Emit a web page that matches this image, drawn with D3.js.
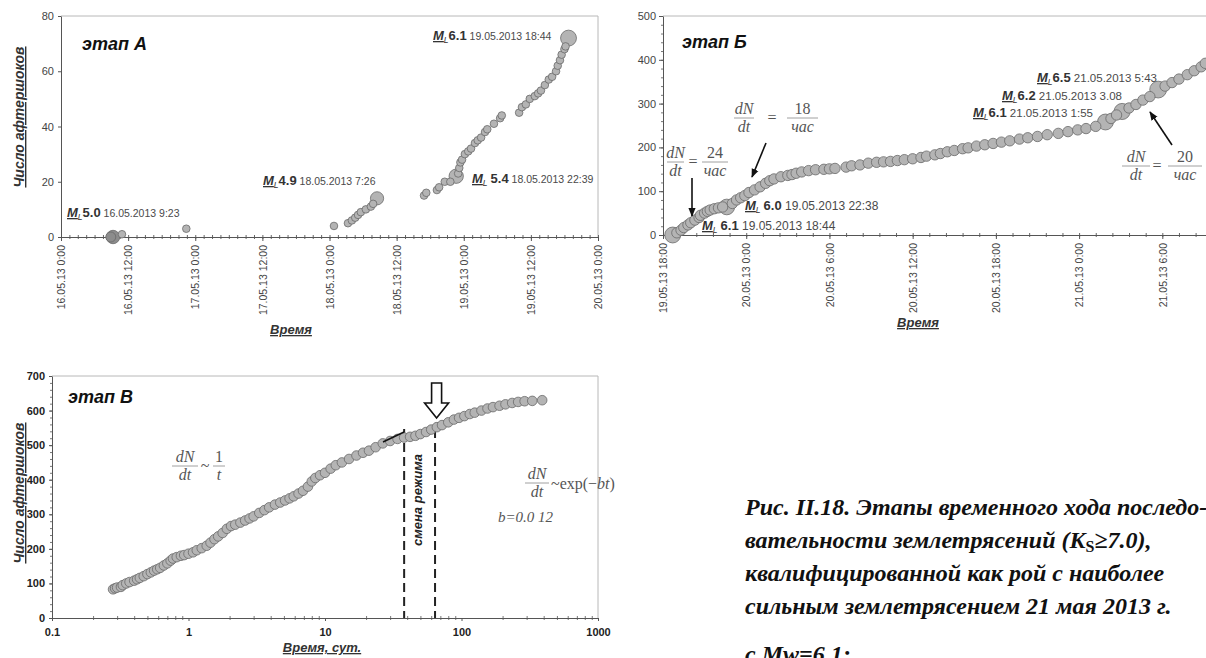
<!DOCTYPE html>
<html>
<head>
<meta charset="utf-8">
<script src="https://cdn.jsdelivr.net/npm/d3@7"></script>
<style>
  body { margin: 0; background: #fff; }
  svg { display: block; }
</style>
</head>
<body>
<svg id="fig" width="1206" height="658" font-family="Liberation Sans, Arial, sans-serif"></svg>
<script>
// ---- stage A: hours after 16.05.2013 0:00, cumulative count
const stageAHours = [10.9, 22.4, 48.8, 51.3, 52.0, 52.6, 53.1, 53.6, 54.5, 55.4, 55.8, 64.9, 65.3, 67.2, 67.6, 68.6, 69.6,
  71.0, 71.2, 71.4, 71.7, 72.2, 72.8, 73.3, 74.0, 74.5, 75.1, 75.8, 76.2, 77.4, 78.5, 78.8, 81.9, 82.4, 83.1, 83.8,
  84.7, 85.3, 85.8, 86.5, 87.2, 87.8, 88.5, 88.8, 89.2, 89.5, 90.0, 90.2];
const stageACount = [1, 3, 4, 5, 6, 7, 8, 9, 10, 11, 12, 15, 16, 17, 18, 20, 20,
  23, 25, 27, 28, 30, 31, 32, 34, 35, 36, 38, 39, 41, 43, 44, 45, 47, 48, 50,
  51, 52, 53, 55, 57, 58, 60, 62, 64, 66, 68, 69];
const mainAHours = [9.3, 56.5, 70.65, 90.73];
const mainACount = [0, 14, 22, 72];
const mainAMag = [5.0, 4.9, 5.4, 6.1];
const mainADate = ["16.05.2013 9:23", "18.05.2013 7:26", "18.05.2013 22:39", "19.05.2013 18:44"];

// ---- stage B: hours after 19.05.2013 18:00
const stageBHours = [1.0, 1.3, 1.5, 1.8, 2.0, 2.3, 2.6, 2.7, 3.0, 3.2, 3.4, 3.7, 4.0, 4.3, 5.0, 5.3, 5.6, 5.9, 6.2, 6.6,
  7.0, 7.4, 7.7, 8.0, 8.5, 9.0, 9.3, 9.6, 10.0, 10.5, 11.0, 11.6, 12.0, 12.4, 13.2, 13.6, 14.2, 14.8, 15.4, 15.9,
  16.4, 16.9, 17.4, 18.0, 18.6, 19.0, 19.6, 20.0, 20.5, 21.0, 21.6, 22.0, 22.6, 23.2, 23.8, 24.4, 25.0, 25.7,
  26.3, 27.0, 27.7, 28.5, 29.2, 29.9, 30.5, 31.2, 32.3, 32.7, 33.6, 34.1, 34.6, 35.1, 36.2, 36.7, 37.2, 37.8,
  38.3, 38.8, 39.1];
const stageBCount = [5, 11, 17, 23, 28, 34, 40, 45, 50, 54, 57, 60, 62, 64, 72, 80, 85, 90, 97, 103,
  110, 118, 124, 128, 133, 136, 138, 141, 144, 147, 149, 150, 151, 152, 155, 158, 160, 164, 166, 167,
  168, 170, 172, 174, 177, 180, 183, 186, 190, 193, 197, 199, 203, 206, 209, 212, 215, 219,
  222, 225, 229, 232, 236, 240, 243, 248, 266, 274, 290, 298, 308, 316, 340, 348, 356, 366,
  375, 384, 392];
const mainBHours = [0.7, 4.6, 31.9, 33.1, 35.7];
const mainBCount = [0, 64, 258, 282, 332];
const mainBMag = [6.1, 6.0, 6.1, 6.2, 6.5];

// ---- stage C: days, cumulative count
const stageCDays = [0.28, 0.29, 0.30, 0.32, 0.33, 0.35, 0.37, 0.40, 0.42, 0.44, 0.47, 0.50, 0.53, 0.56, 0.59, 0.62,
  0.66, 0.70, 0.74, 0.77, 0.82, 0.88, 0.93, 1.0, 1.08, 1.15, 1.25, 1.36, 1.45, 1.55, 1.65, 1.78, 1.91, 2.05, 2.2,
  2.4, 2.6, 2.8, 3.0, 3.3, 3.6, 3.9, 4.3, 4.7, 5.1, 5.5, 5.9, 6.4, 6.9, 7.5, 8.0, 8.5, 9.2, 10, 11, 12, 13.3, 15,
  17, 19, 21, 23.5, 26.5, 30, 34, 38, 42, 46, 50, 55, 60, 66, 72, 80, 88, 96, 105, 115, 125, 140, 155, 170, 190,
  210, 235, 260, 290, 330, 390];
const stageCCount = [83, 86, 88, 90, 95, 100, 104, 108, 112, 116, 121, 127, 132, 137, 141, 145,
  152, 158, 166, 172, 176, 180, 182, 186, 190, 196, 202, 209, 218, 228, 236, 246, 258, 266, 270,
  276, 282, 288, 294, 304, 312, 320, 328, 334, 340, 346, 352, 360, 368, 380, 395, 405, 413, 420, 432, 442, 450, 460,
  470, 478, 484, 494, 505, 512, 518, 522, 524, 527, 532, 538, 545, 552, 558, 566, 574, 579, 584, 590, 594, 600, 606, 610, 614,
  618, 622, 625, 627, 628, 630];
const regimeDays = [38, 64];

const ticksAHours = [0, 12, 24, 36, 48, 60, 72, 84, 96];
const ticksBHours = [0, 6, 12, 18, 24, 30, 36];
const ticksAY = [0, 20, 40, 60, 80];
const ticksBY = [0, 100, 200, 300, 400, 500];
const ticksCY = [0, 100, 200, 300, 400, 500, 600, 700];
const ticksCX = [0.1, 1, 10, 100, 1000];

const captionLines = [
  "Рис. II.18. Этапы временного хода последо-",
  "вательности землетрясений (K|S|≥7.0),",
  "квалифицированной как рой с наиболее",
  "сильным землетрясением 21 мая 2013 г.",
  "с Mw=6.1;"
];

const svg = d3.select("#fig");
const SERIF = "Liberation Serif, Times New Roman, serif";
const startA = new Date(2013, 4, 16, 0, 0);
const startB = new Date(2013, 4, 19, 18, 0);
const atHours = (s, h) => new Date(+s + h * 3600e3);
const fmt = d3.timeFormat("%d.%m.%y %-H:%M");
const rScale = d3.scaleLinear().domain([4.9, 6.5]).range([6.6, 8.4]);

const FILL = "#b4b4b4", STROKE = "#6a6a6a";

svg.append("defs").append("marker")
  .attr("id", "arr").attr("viewBox", "0 0 10 10").attr("refX", 9).attr("refY", 5)
  .attr("markerWidth", 9).attr("markerHeight", 9).attr("markerUnits", "userSpaceOnUse")
  .attr("orient", "auto")
  .append("path").attr("d", "M0,1 L10,5 L0,9 z").attr("fill", "#111");

function styleAxis(g, size) {
  g.attr("font-family", null);
  g.select(".domain").attr("stroke", "#555");
  g.selectAll(".tick line").attr("stroke", "#555");
  g.selectAll("text").attr("font-size", size).attr("fill", "#444");
}

function border(x, y) {
  const [x0, x1] = x.range(), [y0, y1] = y.range();
  svg.append("path").attr("d", `M${x0},${y1}H${x1}V${y0}`)
    .attr("fill", "none").attr("stroke", "#b8b8b8").attr("stroke-width", 1);
}

function axisTitle(x, y, txt, rot, size) {
  svg.append("text").attr("transform", `translate(${x},${y}) rotate(${rot})`)
    .attr("text-anchor", "middle").attr("font-size", size).attr("font-weight", "bold")
    .attr("font-style", "italic").attr("text-decoration", "underline").attr("fill", "#333").text(txt);
}

function stageTitle(x, y, txt) {
  svg.append("text").attr("x", x).attr("y", y).attr("font-size", 18).attr("font-weight", "bold")
    .attr("font-style", "italic").attr("fill", "#111").text(txt);
}

function mlLabel(x, y, mag, date, gap, dateSize) {
  const t = svg.append("text").attr("x", x).attr("y", y).attr("fill", "#333");
  t.append("tspan").text("M").attr("font-size", 13).attr("font-weight", "bold")
    .attr("font-style", "italic").attr("text-decoration", "underline");
  t.append("tspan").text("L").attr("font-size", 8.5).attr("font-style", "italic").attr("dy", 3);
  t.append("tspan").text(mag.toFixed(1)).attr("font-size", 13).attr("font-weight", "bold").attr("dy", -3).attr("dx", gap);
  t.append("tspan").text(" " + date).attr("font-size", dateSize || 10.5).attr("fill", "#4a4a4a");
}

function serif(x, y, txt, anchor, italic, size) {
  return svg.append("text").attr("x", x).attr("y", y).attr("text-anchor", anchor || "middle")
    .attr("font-family", SERIF).attr("font-size", size || 16)
    .attr("font-style", italic ? "italic" : "normal").attr("fill", "#555").text(txt);
}

function frac(x, barY, w, num, den, numItalic) {
  svg.append("line").attr("x1", x).attr("x2", x + w).attr("y1", barY).attr("y2", barY)
    .attr("stroke", "#888").attr("stroke-width", 0.8);
  serif(x + w / 2, barY - 4, num, "middle", numItalic);
  serif(x + w / 2, barY + 14, den, "middle", true);
}

function arrow(x1, y1, x2, y2) {
  svg.append("line").attr("x1", x1).attr("y1", y1).attr("x2", x2).attr("y2", y2)
    .attr("stroke", "#111").attr("stroke-width", 1.6).attr("marker-end", "url(#arr)");
}

function dots(data, x, y, r, fill) {
  svg.append("g").selectAll("circle").data(data).join("circle")
    .attr("cx", d => x(d[0])).attr("cy", d => y(d[1]))
    .attr("r", d => (d[2] ? rScale(d[2]) : r))
    .attr("fill", d => d[3] || fill).attr("stroke", STROKE).attr("stroke-width", 0.8);
}

// ================= stage A =================
const xA = d3.scaleTime().domain([startA, atHours(startA, 96)]).range([61, 598]);
const yA = d3.scaleLinear().domain([0, 80]).range([237, 16]);
border(xA, yA);

svg.append("g").attr("transform", "translate(0,237)")
  .call(d3.axisBottom(xA).tickValues(d3.range(0, 97, 1.5).map(h => atHours(startA, h))).tickSize(2).tickFormat(""))
  .call(g => { g.select(".domain").remove(); g.selectAll("line").attr("stroke", "#666").attr("y1", -2); });
const axA = svg.append("g").attr("transform", "translate(0,237)")
  .call(d3.axisBottom(xA).tickValues(ticksAHours.map(h => atHours(startA, h))).tickFormat(fmt).tickSizeInner(4).tickSizeOuter(0));
styleAxis(axA, 10.5);
axA.selectAll("text").attr("transform", "rotate(-90)").attr("text-anchor", "end")
  .attr("x", -8).attr("y", 0).attr("dy", "0.35em");

const ayA = svg.append("g").attr("transform", "translate(61,0)")
  .call(d3.axisLeft(yA).tickValues(ticksAY).tickSizeInner(3).tickSizeOuter(0).tickPadding(4));
styleAxis(ayA, 11);

dots(mainAHours.map((h, i) => [atHours(startA, h), mainACount[i], mainAMag[i], i === 0 ? "#8c8c8c" : null]), xA, yA, 3.8, FILL);
dots([[atHours(startA, 8.9), 0, null, "#8c8c8c"]], xA, yA, 5, FILL);
dots(stageAHours.map((h, i) => [atHours(startA, h), stageACount[i]]), xA, yA, 3.8, FILL);

stageTitle(82, 50, "этап А");
axisTitle(24, 117, "Число афтершоков", -90, 14);
axisTitle(291, 334, "Время", 0, 13);
mlLabel(67, 217, mainAMag[0], mainADate[0], 0);
mlLabel(263, 185, mainAMag[1], mainADate[1], 0);
mlLabel(472, 183, mainAMag[2], mainADate[2], 3);
mlLabel(433, 40, mainAMag[3], mainADate[3], 0);

// ================= stage B =================
const xB = d3.scaleTime().domain([startB, atHours(startB, 40)]).range([663, 663 + 40 * 13.87]);
const yB = d3.scaleLinear().domain([0, 500]).range([235, 16]);
border(xB, yB);

svg.append("g").attr("transform", "translate(0,235)")
  .call(d3.axisBottom(xB).tickValues(d3.range(0, 40, 1.2).map(h => atHours(startB, h))).tickSize(2).tickFormat(""))
  .call(g => { g.select(".domain").remove(); g.selectAll("line").attr("stroke", "#666").attr("y1", -2); });
const axB = svg.append("g").attr("transform", "translate(0,235)")
  .call(d3.axisBottom(xB).tickValues(ticksBHours.map(h => atHours(startB, h))).tickFormat(fmt).tickSizeInner(4).tickSizeOuter(0));
styleAxis(axB, 10.5);
axB.selectAll("text").attr("transform", "rotate(-90)").attr("text-anchor", "end")
  .attr("x", -8).attr("y", 0).attr("dy", "0.35em");

svg.append("g").attr("transform", "translate(663,0)")
  .call(d3.axisLeft(yB).tickValues(d3.range(0, 501, 20)).tickSize(2).tickFormat(""))
  .call(g => { g.select(".domain").remove(); g.selectAll("line").attr("stroke", "#777"); });
const ayB = svg.append("g").attr("transform", "translate(663,0)")
  .call(d3.axisLeft(yB).tickValues(ticksBY).tickSizeInner(4).tickSizeOuter(0).tickPadding(3));
styleAxis(ayB, 11);

dots(mainBHours.map((h, i) => [atHours(startB, h), mainBCount[i], mainBMag[i]]), xB, yB, 5.2, FILL);
dots(stageBHours.map((h, i) => [atHours(startB, h), stageBCount[i]]), xB, yB, 5.2, FILL);

stageTitle(682, 48, "этап Б");
axisTitle(918, 327, "Время", 0, 13);
mlLabel(745, 210, mainBMag[1], "19.05.2013 22:38", 3, 12);
mlLabel(702, 230, mainBMag[0], "19.05.2013 18:44", 3, 12);
mlLabel(1037, 82, mainBMag[4], "21.05.2013 5:43", 0, 11.5);
mlLabel(1002, 100, mainBMag[3], "21.05.2013 3.08", 0, 11.5);
mlLabel(973, 117, mainBMag[2], "21.05.2013 1:55", 0, 11.5);

frac(667, 162, 17, "dN", "dt", true); serif(693, 167, "="); frac(702, 162, 26, "24", "час", false);
frac(734, 118, 20, "dN", "dt", true); serif(772, 123, "="); frac(787, 118, 31, "18", "час", false);
frac(1122, 166, 28, "dN", "dt", true); serif(1157, 171, "="); frac(1168, 166, 34, "20", "час", false);
arrow(692, 178, 692, 216);
arrow(766, 143, 752, 177);
arrow(1172, 145, 1150, 112);

// ================= stage C =================
const xC = d3.scaleLog().domain([0.1, 1000]).range([52, 598]);
const yC = d3.scaleLinear().domain([0, 700]).range([618, 376]);
border(xC, yC);

const minorC = [];
[0.1, 1, 10, 100].forEach(d => d3.range(2, 10).forEach(k => minorC.push(d * k)));
svg.append("g").attr("transform", "translate(0,618)")
  .call(d3.axisBottom(xC).tickValues(minorC).tickSize(2).tickFormat(""))
  .call(g => { g.select(".domain").remove(); g.selectAll("line").attr("stroke", "#777").attr("y1", -2); });
const axC = svg.append("g").attr("transform", "translate(0,618)")
  .call(d3.axisBottom(xC).tickValues(ticksCX).tickFormat(d3.format("~g")).tickSizeInner(3).tickSizeOuter(0).tickPadding(7));
styleAxis(axC, 11);
axC.selectAll("text").attr("font-weight", "bold").attr("fill", "#222");

svg.append("g").attr("transform", "translate(52,0)")
  .call(d3.axisLeft(yC).tickValues(d3.range(0, 701, 20)).tickSize(2).tickFormat(""))
  .call(g => { g.select(".domain").remove(); g.selectAll("line").attr("stroke", "#777"); });
const ayC = svg.append("g").attr("transform", "translate(52,0)")
  .call(d3.axisLeft(yC).tickValues(ticksCY).tickSizeInner(3).tickSizeOuter(0).tickPadding(4));
styleAxis(ayC, 11);
ayC.selectAll("text").attr("font-weight", "bold").attr("fill", "#222");

svg.append("g").selectAll("line").data(regimeDays).join("line")
  .attr("x1", d => xC(d)).attr("x2", d => xC(d)).attr("y1", 429).attr("y2", 618)
  .attr("stroke", "#222").attr("stroke-width", 2).attr("stroke-dasharray", "9,5");

dots(stageCDays.map((d, i) => [d, stageCCount[i]]), xC, yC, 4.8, FILL);

svg.append("line").attr("x1", 383).attr("y1", 442).attr("x2", 404).attr("y2", 432)
  .attr("stroke", "#111").attr("stroke-width", 1.5);

// hollow arrow above the regime change
const ax = d3.mean(regimeDays.map(d => xC(d))) + 17;
svg.append("path")
  .attr("d", `M${ax - 5},383 H${ax + 5} V403 H${ax + 12} L${ax},418 L${ax - 12},403 H${ax - 5} Z`)
  .attr("fill", "#fff").attr("stroke", "#111").attr("stroke-width", 1.6);

svg.append("text").attr("transform", "translate(422,500) rotate(-90)").attr("text-anchor", "middle")
  .attr("font-size", 13).attr("font-weight", "bold").attr("font-style", "italic").attr("fill", "#222")
  .text("смена  режима");

stageTitle(68, 403, "этап В");
axisTitle(24, 493, "Число афтершоков", -90, 14);
axisTitle(322, 652, "Время, сут.", 0, 13);

frac(172, 466, 26, "dN", "dt", true); serif(205, 471, "~"); frac(213, 466, 12, "1", "t", false);
frac(525, 483, 24, "dN", "dt", true);
const ex = serif(551, 489, "", "start", false);
ex.append("tspan").text("~exp(−");
ex.append("tspan").text("bt").attr("font-style", "italic");
ex.append("tspan").text(")");
serif(498, 522, "b=0.0 12", "start", true, 15);

// ================= caption =================
const cap = svg.append("g").attr("font-family", SERIF).attr("font-size", 24)
  .attr("font-weight", "bold").attr("font-style", "italic").attr("fill", "#111");
captionLines.forEach((line, i) => {
  const t = cap.append("text").attr("x", 745).attr("y", i < 4 ? 515 + i * 33 : 662);
  const parts = line.split("|");
  parts.forEach((p, k) => {
    const s = t.append("tspan").text(p);
    if (k === 1) s.attr("font-size", 16).attr("font-style", "normal").attr("dy", 4);
    if (k === 2) s.attr("dy", -4);
  });
});
</script>
</body>
</html>
